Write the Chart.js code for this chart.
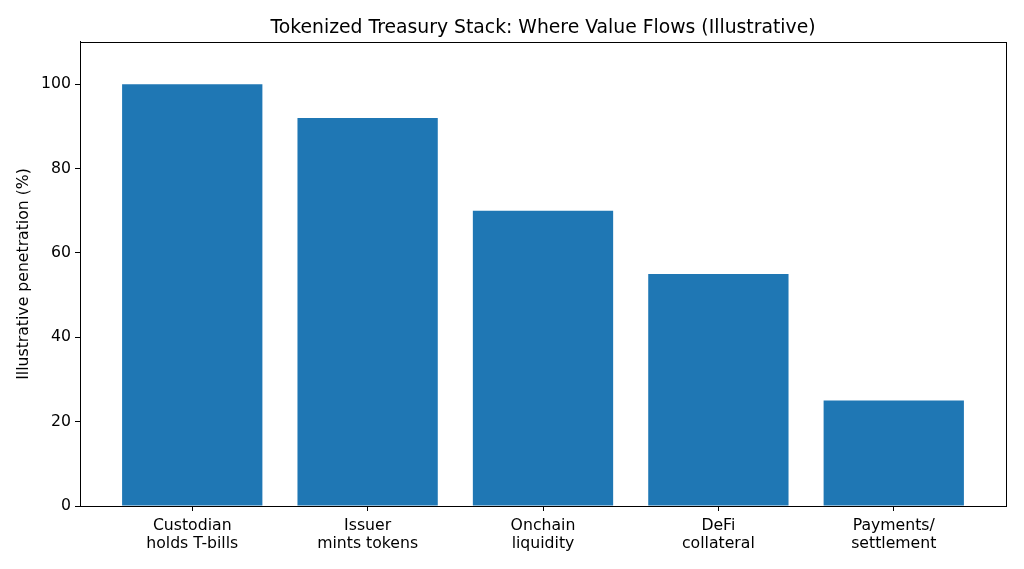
<!DOCTYPE html>
<html>
<head>
<meta charset="utf-8">
<script src="https://cdn.jsdelivr.net/npm/chart.js@4/dist/chart.umd.min.js"></script>
<style>
  html, body { margin: 0; padding: 0; background: #fff; }
  #wrap { width: 1024px; height: 569px; }
</style>
</head>
<body>
<div id="wrap"><canvas id="chart" width="1024" height="569"></canvas></div>
<script>
// dados do gráfico
const categories = [
    ['Custodian', 'holds T-bills'],
    ['Issuer', 'mints tokens'],
    ['Onchain', 'liquidity'],
    ['DeFi', 'collateral'],
    ['Payments/', 'settlement']
];
const penetration = [100, 92, 70, 55, 25];
const yTicks = [0, 20, 40, 60, 80, 100];

const FONT = 'DejaVu Sans';

// moldura completa (estilo matplotlib)
const framePlugin = {
    id: 'frame',
    afterDraw(chart) {
        const { ctx, chartArea: a } = chart;
        ctx.save();
        ctx.strokeStyle = '#000';
        ctx.lineWidth = 1;
        ctx.strokeRect(Math.round(a.left) + 0.5, Math.round(a.top) + 0.5,
            Math.round(a.right - a.left), Math.round(a.bottom - a.top));
        ctx.restore();
    }
};

const ctx = document.getElementById('chart').getContext('2d');
new Chart(ctx, {
    type: 'bar',
    data: {
        datasets: [{
            data: penetration.map((v, i) => ({ x: i, y: v })),
            backgroundColor: '#1f77b4',
            borderWidth: 0,
            barPercentage: 0.8,
            categoryPercentage: 1.0
        }]
    },
    options: {
        responsive: false,
        animation: false,
        devicePixelRatio: 1,
        layout: { padding: { left: 0, right: 18, top: 0, bottom: 0 } },
        plugins: {
            legend: { display: false },
            tooltip: { enabled: false },
            title: {
                display: true,
                fullSize: false,
                text: 'Tokenized Treasury Stack: Where Value Flows (Illustrative)',
                color: '#000',
                font: { family: FONT, size: 18.8, weight: 'normal' },
                padding: { top: 16.5, bottom: 2.9 }
            }
        },
        scales: {
            x: {
                type: 'linear',
                min: -0.64,
                max: 4.64,
                offset: false,
                afterBuildTicks: axis => { axis.ticks = categories.map((_, i) => ({ value: i })); },
                afterFit: s => { s.height = 63; },
                grid: { offset: false, drawOnChartArea: false, drawTicks: true, tickLength: 5, color: '#000' },
                border: { display: true, color: '#000' },
                ticks: {
                    autoSkip: false,
                    maxRotation: 0,
                    padding: 6,
                    color: '#000',
                    font: { family: FONT, size: 15.7, lineHeight: 1.15 },
                    callback: v => categories[v] || ''
                }
            },
            y: {
                min: 0,
                max: 110,
                afterBuildTicks: axis => { axis.ticks = yTicks.map(v => ({ value: v })); },
                afterFit: s => { s.width = 80; },
                grid: { drawOnChartArea: false, drawTicks: true, tickLength: 5, color: '#000' },
                border: { display: true, color: '#000' },
                ticks: {
                    padding: 4,
                    color: '#000',
                    font: { family: FONT, size: 15.7 }
                },
                title: {
                    display: true,
                    text: 'Illustrative penetration (%)',
                    color: '#000',
                    font: { family: FONT, size: 15.7 },
                    padding: { top: 14.6, bottom: 0 }
                }
            }
        }
    },
    plugins: [framePlugin]
});
</script>
</body>
</html>
